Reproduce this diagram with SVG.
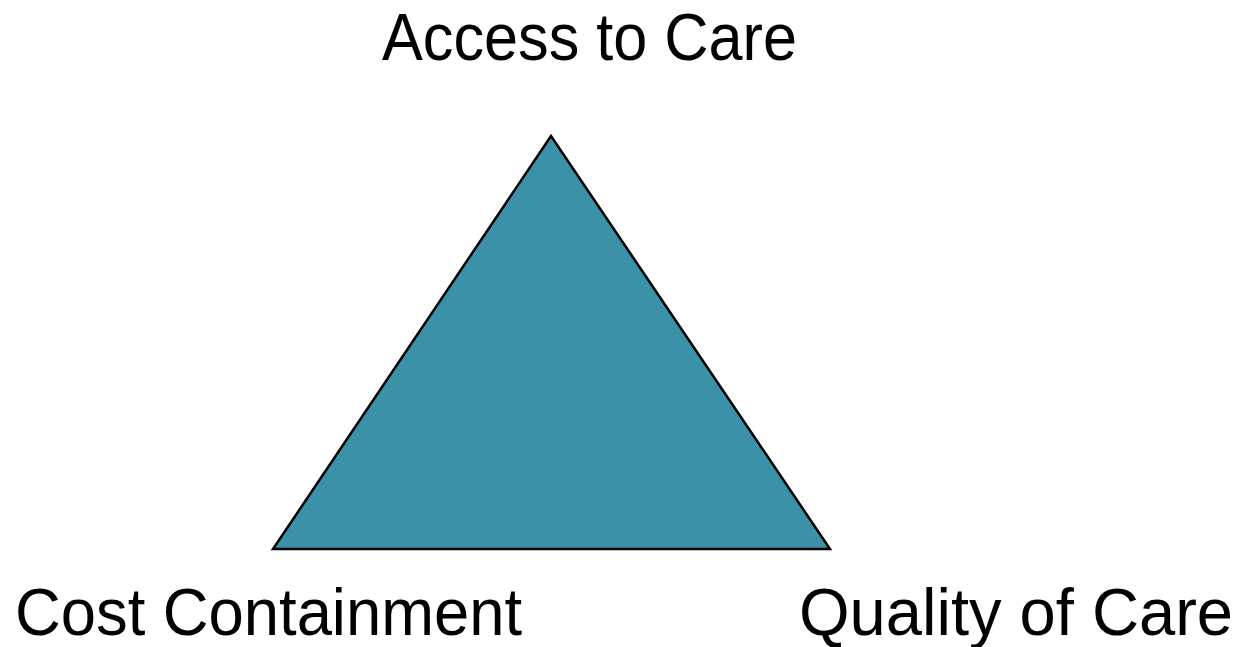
<svg xmlns="http://www.w3.org/2000/svg" width="1244" height="647" viewBox="0 0 1244 647">
<style>
.lbl{font-family:"Liberation Sans","DejaVu Sans",sans-serif;font-size:66px;fill:#000}
</style>
<rect width="1244" height="647" fill="#fff"/>
<g id="triangle">
<polygon points="551,136 273,549 830,549" fill="#3A91A8" stroke="#000" stroke-width="2.5" stroke-linejoin="miter"/>
</g>
<g id="access">
<text class="lbl" x="382" y="60" textLength="415" lengthAdjust="spacingAndGlyphs">Access to Care</text>
</g>
<g id="cost">
<text class="lbl" x="15" y="635" textLength="507" lengthAdjust="spacingAndGlyphs">Cost Containment</text>
</g>
<g id="quality">
<text class="lbl" x="799" y="635" textLength="434" lengthAdjust="spacingAndGlyphs">Quality of Care</text>
</g>
</svg>
